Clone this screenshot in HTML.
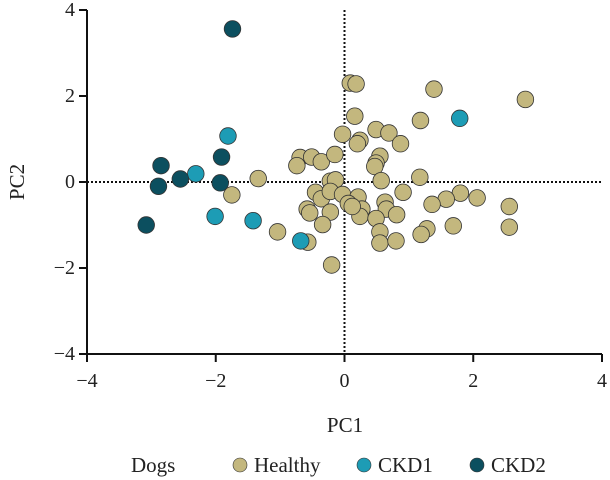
<!DOCTYPE html>
<html><head><meta charset="utf-8"><style>
body{margin:0;background:#fff;}
svg{display:block;font-family:"Liberation Serif",serif;}
</style></head><body>
<svg id="chart" width="610" height="480" viewBox="0 0 610 480" xmlns="http://www.w3.org/2000/svg">
<g id="grid"></g><g id="marks"></g><g id="axes"></g><g id="legend"></g>
</svg>
<script>
const xTicks=[-4,-2,0,2,4];
const yTicks=[-4,-2,0,2,4];
const healthyX=[0.09,0.18,1.39,2.81,0.16,1.18,-0.03,0.49,0.69,0.24,0.20,0.87,-0.69,-0.51,-0.36,-0.15,-0.74,0.55,0.49,0.47,-1.34,-0.22,-0.14,0.57,1.17,-1.75,-0.45,-0.36,-0.22,-0.03,0.21,0.91,1.80,2.06,1.58,1.36,2.56,0.06,0.27,0.63,0.65,-0.58,-0.54,-0.22,0.24,0.49,0.81,-0.34,0.55,1.28,1.19,1.69,2.56,-1.04,-0.57,0.55,0.80,-0.20,0.12];
const healthyY=[2.30,2.28,2.16,1.92,1.53,1.43,1.11,1.22,1.14,0.97,0.89,0.89,0.57,0.58,0.47,0.64,0.38,0.60,0.44,0.36,0.08,0.02,0.05,0.03,0.11,-0.30,-0.24,-0.39,-0.22,-0.29,-0.35,-0.24,-0.26,-0.37,-0.40,-0.52,-0.57,-0.50,-0.63,-0.47,-0.63,-0.63,-0.72,-0.70,-0.80,-0.85,-0.76,-0.99,-1.16,-1.09,-1.22,-1.02,-1.05,-1.16,-1.40,-1.42,-1.37,-1.93,-0.57];
const ckd1X=[-2.31,-1.81,-2.01,-1.42,-0.68,1.79];
const ckd1Y=[0.19,1.07,-0.80,-0.90,-1.37,1.48];
const ckd2X=[-1.74,-1.91,-2.85,-2.55,-1.93,-2.89,-3.08];
const ckd2Y=[3.56,0.58,0.38,0.07,-0.02,-0.10,-1.00];
const legendLabels=["Healthy","CKD1","CKD2"];

const NS="http://www.w3.org/2000/svg";
const L=87,R=602,T=10,B=354;
const sx=v=>L+(v+4)/8*(R-L);
const sy=v=>B-(v+4)/8*(B-T);
function mk(tag,attrs,parent,text){const e=document.createElementNS(NS,tag);for(const k in attrs)e.setAttribute(k,attrs[k]);if(text!==undefined)e.textContent=text;parent.appendChild(e);return e;}
const grid=document.getElementById('grid'),marks=document.getElementById('marks'),axes=document.getElementById('axes'),legend=document.getElementById('legend');

let e=mk('line',{x1:L,x2:R,y1:sy(0),y2:sy(0),stroke:'#111','stroke-width':2,'stroke-dasharray':'2,2'},grid);


e=mk('line',{x1:sx(0),x2:sx(0),y1:T,y2:B,stroke:'#111','stroke-width':2,'stroke-dasharray':'2,2'},grid);



function series(xs,ys,fill,name){xs.forEach((x,i)=>{const c=mk('circle',{cx:sx(x),cy:sy(ys[i]),r:8.3,fill:fill,stroke:'#333','stroke-width':0.8},marks);

});}
series(healthyX,healthyY,'#c3b77e','healthy');
series(ckd1X,ckd1Y,'#1d9cb5','ckd1');
series(ckd2X,ckd2Y,'#0c4f5f','ckd2');

e=mk('path',{d:`M${L},${T} V${B} H${R}`,fill:'none',stroke:'#111','stroke-width':2},axes);


xTicks.forEach(v=>{const x=sx(v);mk('line',{x1:x,x2:x,y1:B,y2:B+8,stroke:'#111','stroke-width':2},axes);
const t=mk('text',{x:x,y:B+33,'text-anchor':'middle','font-size':20,fill:'#222'},axes,v<0?'\u2212'+(-v):String(v));

});
yTicks.forEach(v=>{const y=sy(v);mk('line',{x1:L-8,x2:L,y1:y,y2:y,stroke:'#111','stroke-width':2},axes);
const t=mk('text',{x:L-12,y:y+6,'text-anchor':'end','font-size':20,fill:'#222'},axes,v<0?'\u2212'+(-v):String(v));

});
e=mk('text',{x:345,y:432,'text-anchor':'middle','font-size':21,fill:'#222'},axes,'PC1');


e=mk('text',{x:24,y:182,'text-anchor':'middle','font-size':21,fill:'#222',transform:'rotate(-90 24 182)'},axes,'PC2');



e=mk('text',{x:131,y:472,'font-size':21,fill:'#222'},legend,'Dogs');


const lx=[240,364,477],lc=['#c3b77e','#1d9cb5','#0c4f5f'];
legendLabels.forEach((lab,i)=>{const c=mk('circle',{cx:lx[i],cy:465,r:7,fill:lc[i],stroke:'#333','stroke-width':0.6},legend);


const t=mk('text',{x:lx[i]+14,y:472,'font-size':21,fill:'#222'},legend,lab);

});
</script>
</body></html>
